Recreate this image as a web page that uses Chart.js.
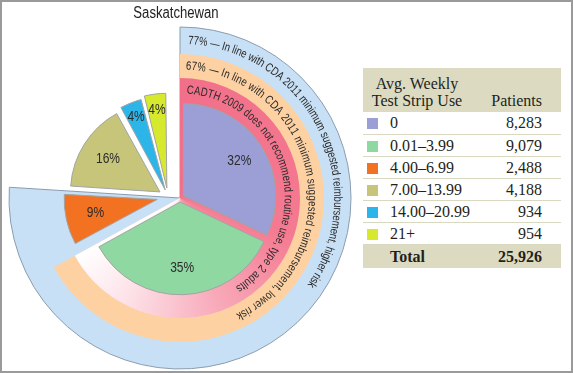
<!DOCTYPE html>
<html>
<head>
<meta charset="utf-8">
<title>Saskatchewan</title>
<script src="https://cdn.jsdelivr.net/npm/chart.js@4.4.1/dist/chart.umd.min.js"></script>
<style>
  body { margin: 0; background: #fff; }
  #page { position: relative; width: 573px; height: 373px; overflow: hidden; background: #fff; }
  #page canvas { position: absolute; left: 0; top: 0; }
  #page canvas#slicesGroup { left: -12px; top: -1px; }
  #frame { position: absolute; left: 0; top: 0; width: 573px; height: 373px; border: 2px solid #9a9a9a; box-sizing: border-box; pointer-events: none; }
  #title { position: absolute; left: 100px; top: 5px; width: 152px; text-align: center; font: 16px/16px 'Liberation Sans', Arial, sans-serif; color: #222; transform: scaleX(0.82); }
  #strips { position: absolute; left: 363px; top: 68px; width: 198px; border-collapse: collapse; font-family: 'Liberation Serif', serif; font-size: 16px; color: #231f20; }
  #strips th { background: #dcdbc2; font-weight: normal; height: 44px; vertical-align: bottom; line-height: 17px; padding: 0 0 3px 0; box-sizing: border-box; }
  #strips th.use { text-align: center; padding-right: 10px; }
  #strips th.num { text-align: right; padding-right: 19px; }
  #strips td { height: 22px; line-height: 21px; padding: 0; border-bottom: 1px solid #d9d8c0; box-sizing: border-box; }
  #strips td.sw { width: 27px; }
  #strips td.sw span { display: inline-block; width: 11px; height: 11px; margin-left: 4px; vertical-align: -1px; }
  #strips td.num { text-align: right; padding-right: 19px; width: 80px; }
  #strips tr.total td { background: #dcdbc2; font-weight: bold; height: 24px; border-bottom: none; }
</style>
</head>
<body>
<div id="page">
  <canvas id="ringBlue" width="360" height="373"></canvas>
  <canvas id="ringOrange" width="360" height="373"></canvas>
  <canvas id="ringPink" width="360" height="373"></canvas>
  <canvas id="slicesMain" width="360" height="373"></canvas>
  <canvas id="slicesGroup" width="360" height="373"></canvas>
  <div id="title">Saskatchewan</div>
  <table id="strips"></table>
  <div id="frame"></div>
</div>
<script>
const categories = ['0', '0.01–3.99', '4.00–6.99', '7.00–13.99', '14.00–20.99', '21+'];
const patients = [8283, 9079, 2488, 4188, 934, 954];
const shares = [32, 35, 9, 16, 4, 4];
const totalPatients = 25926;
const ringTexts = [
    '77% — In line with CDA 2011 minimum suggested reimbursement, higher risk',
    '67% — In line with CDA 2011 minimum suggested reimbursement, lower risk',
    'CADTH 2009 does not recommend routine use, type 2 adults'
];

const sliceColors = ['#9c9fd6', '#8fd8a1', '#f37222', '#c6c57a', '#2cb5e9', '#d6e92c'];
const blueRing = '#c8e0f5';
const orangeRing = '#fdd1a2';
const clear = 'rgba(0,0,0,0)';
const narrowFont = '"Liberation Sans", Arial, sans-serif';

document.addEventListener('DOMContentLoaded', function() {
    buildTable();
    drawRings();
    drawSlices();
});

function buildTable(){
    const table = document.getElementById('strips');
    let html = '<tr><th class="use" colspan="2">Avg. Weekly<br>Test Strip Use</th><th class="num">Patients</th></tr>';
    categories.forEach((c, i) => {
        html += '<tr><td class="sw"><span style="background:' + sliceColors[i] + '"></span></td>' +
                '<td>' + c + '</td><td class="num">' + patients[i].toLocaleString('en-US') + '</td></tr>';
    });
    html += '<tr class="total"><td class="sw"></td><td>Total</td><td class="num">' + totalPatients.toLocaleString('en-US') + '</td></tr>';
    table.innerHTML = html;
}

// text written along an arc, angles in degrees clockwise from 12 o'clock
// glyphs squeezed horizontally to look like a condensed face
const ringText = {
    id: 'ringText',
    afterDatasetsDraw(chart, args, opts) {
        const arc = chart.getDatasetMeta(0).data[0];
        const ctx = chart.ctx;
        const sx = opts.squeeze;
        ctx.save();
        ctx.font = opts.font;
        ctx.fillStyle = '#2a2a2a';
        ctx.textAlign = 'center';
        ctx.textBaseline = 'middle';
        const full = ctx.measureText(opts.text).width * sx;
        const span = (opts.to - opts.from) * Math.PI / 180;
        const k = span * opts.r / full;
        let pos = 0;
        for (const ch of opts.text) {
            const w = ctx.measureText(ch).width * sx;
            const a = opts.from * Math.PI / 180 + (pos + w / 2) * k / opts.r;
            ctx.save();
            ctx.translate(arc.x, arc.y);
            ctx.rotate(a);
            ctx.translate(0, -opts.r);
            ctx.scale(sx, 1);
            ctx.fillText(ch, 0, 0);
            ctx.restore();
            pos += w;
        }
        ctx.restore();
    }
};

const sliceLabels = {
    id: 'sliceLabels',
    afterDatasetsDraw(chart, args, opts) {
        const ctx = chart.ctx;
        const meta = chart.getDatasetMeta(0);
        ctx.save();
        ctx.font = '15px ' + narrowFont;
        ctx.fillStyle = '#2b2b2b';
        ctx.textAlign = 'center';
        ctx.textBaseline = 'middle';
        meta.data.forEach((arc, i) => {
            if (!opts.show[i]) return;
            const mid = (arc.startAngle + arc.endAngle) / 2;
            const dist = (arc.options.offset || 0) / 4 + opts.where[i] * arc.outerRadius;
            ctx.save();
            ctx.translate(arc.x + Math.cos(mid) * dist, arc.y + Math.sin(mid) * dist);
            ctx.scale(0.8, 1);
            ctx.fillText(shares[i] + '%', 0, 0);
            ctx.restore();
        });
        ctx.restore();
    }
};

function pieOptions(radius){
    return {
        responsive: false,
        animation: false,
        events: [],
        radius: radius,
        layout: { padding: { top: 23 } },
        plugins: {
            legend: { display: false },
            tooltip: { enabled: false }
        }
    };
}

function drawRings(){
    const lowRisk = shares[0] + shares[1];
    const highRisk = lowRisk + shares[2];
    const ringFont = '12px ' + narrowFont;

    const blueOpts = pieOptions(171);
    blueOpts.plugins.ringText = { text: ringTexts[0], r: 157.5, from: 3, to: 124, font: ringFont, squeeze: 0.8 };
    new Chart(document.getElementById('ringBlue'), {
        type: 'pie',
        data: {
            labels: ['higher risk', ''],
            datasets: [{
                data: [highRisk, 100 - highRisk],
                backgroundColor: [blueRing, clear],
                borderColor: '#8b9cb0',
                borderWidth: [1, 0]
            }]
        },
        options: blueOpts,
        plugins: [ringText]
    });

    const orangeOpts = pieOptions(144);
    orangeOpts.plugins.ringText = { text: ringTexts[1], r: 132, from: 2.5, to: 154, font: ringFont, squeeze: 0.8 };
    new Chart(document.getElementById('ringOrange'), {
        type: 'pie',
        data: {
            labels: ['lower risk', ''],
            datasets: [{
                data: [lowRisk, 100 - lowRisk],
                backgroundColor: [orangeRing, clear],
                borderWidth: 0
            }]
        },
        options: orangeOpts,
        plugins: [ringText]
    });

    const pinkOpts = pieOptions(120);
    pinkOpts.plugins.ringText = { text: ringTexts[2], r: 108, from: 3.5, to: 148, font: ringFont, squeeze: 0.8 };
    new Chart(document.getElementById('ringPink'), {
        type: 'pie',
        data: {
            labels: ['CADTH 2009', ''],
            datasets: [{
                data: [lowRisk, 100 - lowRisk],
                backgroundColor: function(context) {
                    if (context.dataIndex !== 0) return clear;
                    const chart = context.chart;
                    const area = chart.chartArea;
                    if (!area) return '#f4788f';
                    const g = chart.ctx.createConicGradient(-Math.PI / 2, (area.left + area.right) / 2, (area.top + area.bottom) / 2);
                    g.addColorStop(0, '#f26f8a');
                    g.addColorStop(0.3, '#f47a91');
                    g.addColorStop(0.45, '#f8abbb');
                    g.addColorStop(0.58, '#fde3e9');
                    g.addColorStop(0.67, '#ffffff');
                    g.addColorStop(1, '#ffffff');
                    return g;
                },
                borderWidth: 0
            }]
        },
        options: pinkOpts,
        plugins: [ringText]
    });
}

function drawSlices(){
    const mainOpts = pieOptions(92);
    mainOpts.plugins.sliceLabels = { show: [true, true, false, false, false, false], where: [0.72, 0.72, 0, 0, 0, 0] };
    new Chart(document.getElementById('slicesMain'), {
        type: 'pie',
        data: {
            labels: categories,
            datasets: [{
                data: shares,
                backgroundColor: shares.map((v, i) => i < 2 ? sliceColors[i] : clear),
                borderColor: '#a3a3a3',
                borderWidth: shares.map((v, i) => i < 2 ? 1 : 0),
                offset: [16, 16, 0, 0, 0, 0]
            }]
        },
        options: mainOpts,
        plugins: [sliceLabels]
    });

    const groupOpts = pieOptions(88);
    groupOpts.plugins.sliceLabels = { show: [false, false, true, true, true, true], where: [0, 0, 0.72, 0.7, 0.9, 0.9] };
    new Chart(document.getElementById('slicesGroup'), {
        type: 'pie',
        data: {
            labels: categories,
            datasets: [{
                data: shares,
                backgroundColor: shares.map((v, i) => i >= 2 ? sliceColors[i] : clear),
                borderColor: '#a3a3a3',
                borderWidth: shares.map((v, i) => i >= 2 ? 1 : 0),
                offset: [0, 0, 44, 38, 30, 36]
            }]
        },
        options: groupOpts,
        plugins: [sliceLabels]
    });
}
</script>
</body>
</html>
